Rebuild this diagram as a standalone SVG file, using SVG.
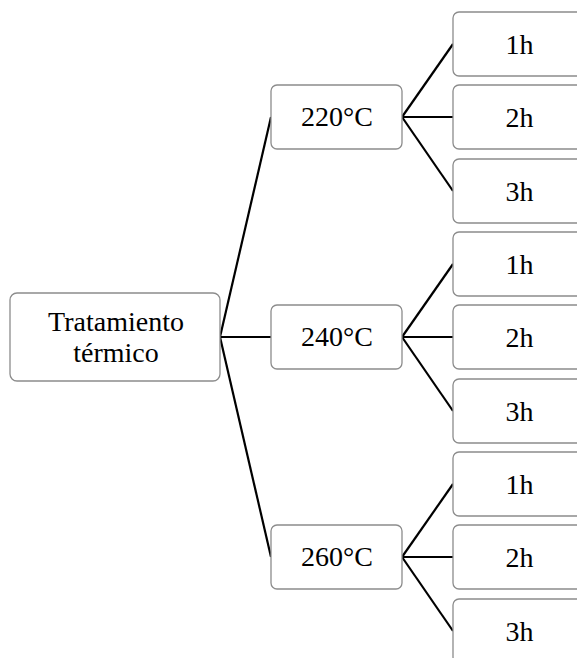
<svg xmlns="http://www.w3.org/2000/svg" width="577" height="658" viewBox="0 0 577 658">
  <style>
    .box { fill: #ffffff; stroke: #8c8c8c; stroke-width: 1.3; }
    .lbl { font-family: "Liberation Serif", "Times New Roman", serif; font-size: 28px; fill: #000000; text-anchor: middle; }
    .link { stroke: #000000; stroke-width: 2.2; fill: none; }
  </style>
  <rect width="577" height="658" fill="#ffffff"/>

  <!-- connectors -->
  <g id="connectors" class="link">
    <line x1="220" y1="337" x2="271" y2="117"/>
    <line x1="220" y1="337" x2="271" y2="337"/>
    <line x1="220" y1="337" x2="271" y2="557"/>

    <line x1="402" y1="117" x2="453" y2="44"/>
    <line x1="402" y1="117" x2="453" y2="117"/>
    <line x1="402" y1="117" x2="453" y2="191"/>

    <line x1="402" y1="337" x2="453" y2="264"/>
    <line x1="402" y1="337" x2="453" y2="337"/>
    <line x1="402" y1="337" x2="453" y2="411"/>

    <line x1="402" y1="557" x2="453" y2="484"/>
    <line x1="402" y1="557" x2="453" y2="557"/>
    <line x1="402" y1="557" x2="453" y2="631"/>
  </g>

  <!-- root -->
  <g id="root">
    <rect class="box" x="10" y="293" width="210" height="88" rx="7"/>
    <text class="lbl" x="116" y="331">Tratamiento</text>
    <text class="lbl" x="116" y="361.5">térmico</text>
  </g>

  <!-- temperatures -->
  <g id="t220">
    <rect class="box" x="271" y="85" width="131" height="64" rx="6"/>
    <text class="lbl" x="337" y="126">220°C</text>
  </g>
  <g id="t240">
    <rect class="box" x="271" y="305" width="131" height="64" rx="6"/>
    <text class="lbl" x="337" y="346">240°C</text>
  </g>
  <g id="t260">
    <rect class="box" x="271" y="525" width="131" height="64" rx="6"/>
    <text class="lbl" x="337" y="566">260°C</text>
  </g>

  <!-- durations, 220°C -->
  <g id="t220-1h">
    <rect class="box" x="453" y="12" width="131" height="64" rx="6"/>
    <text class="lbl" x="519.5" y="53.5">1h</text>
  </g>
  <g id="t220-2h">
    <rect class="box" x="453" y="85" width="131" height="64" rx="6"/>
    <text class="lbl" x="519.5" y="126.5">2h</text>
  </g>
  <g id="t220-3h">
    <rect class="box" x="453" y="159" width="131" height="64" rx="6"/>
    <text class="lbl" x="519.5" y="200.5">3h</text>
  </g>

  <!-- durations, 240°C -->
  <g id="t240-1h">
    <rect class="box" x="453" y="232" width="131" height="64" rx="6"/>
    <text class="lbl" x="519.5" y="273.5">1h</text>
  </g>
  <g id="t240-2h">
    <rect class="box" x="453" y="305" width="131" height="64" rx="6"/>
    <text class="lbl" x="519.5" y="346.5">2h</text>
  </g>
  <g id="t240-3h">
    <rect class="box" x="453" y="379" width="131" height="64" rx="6"/>
    <text class="lbl" x="519.5" y="420.5">3h</text>
  </g>

  <!-- durations, 260°C -->
  <g id="t260-1h">
    <rect class="box" x="453" y="452" width="131" height="64" rx="6"/>
    <text class="lbl" x="519.5" y="493.5">1h</text>
  </g>
  <g id="t260-2h">
    <rect class="box" x="453" y="525" width="131" height="64" rx="6"/>
    <text class="lbl" x="519.5" y="566.5">2h</text>
  </g>
  <g id="t260-3h">
    <rect class="box" x="453" y="599" width="131" height="64" rx="6"/>
    <text class="lbl" x="519.5" y="640.5">3h</text>
  </g>
</svg>
